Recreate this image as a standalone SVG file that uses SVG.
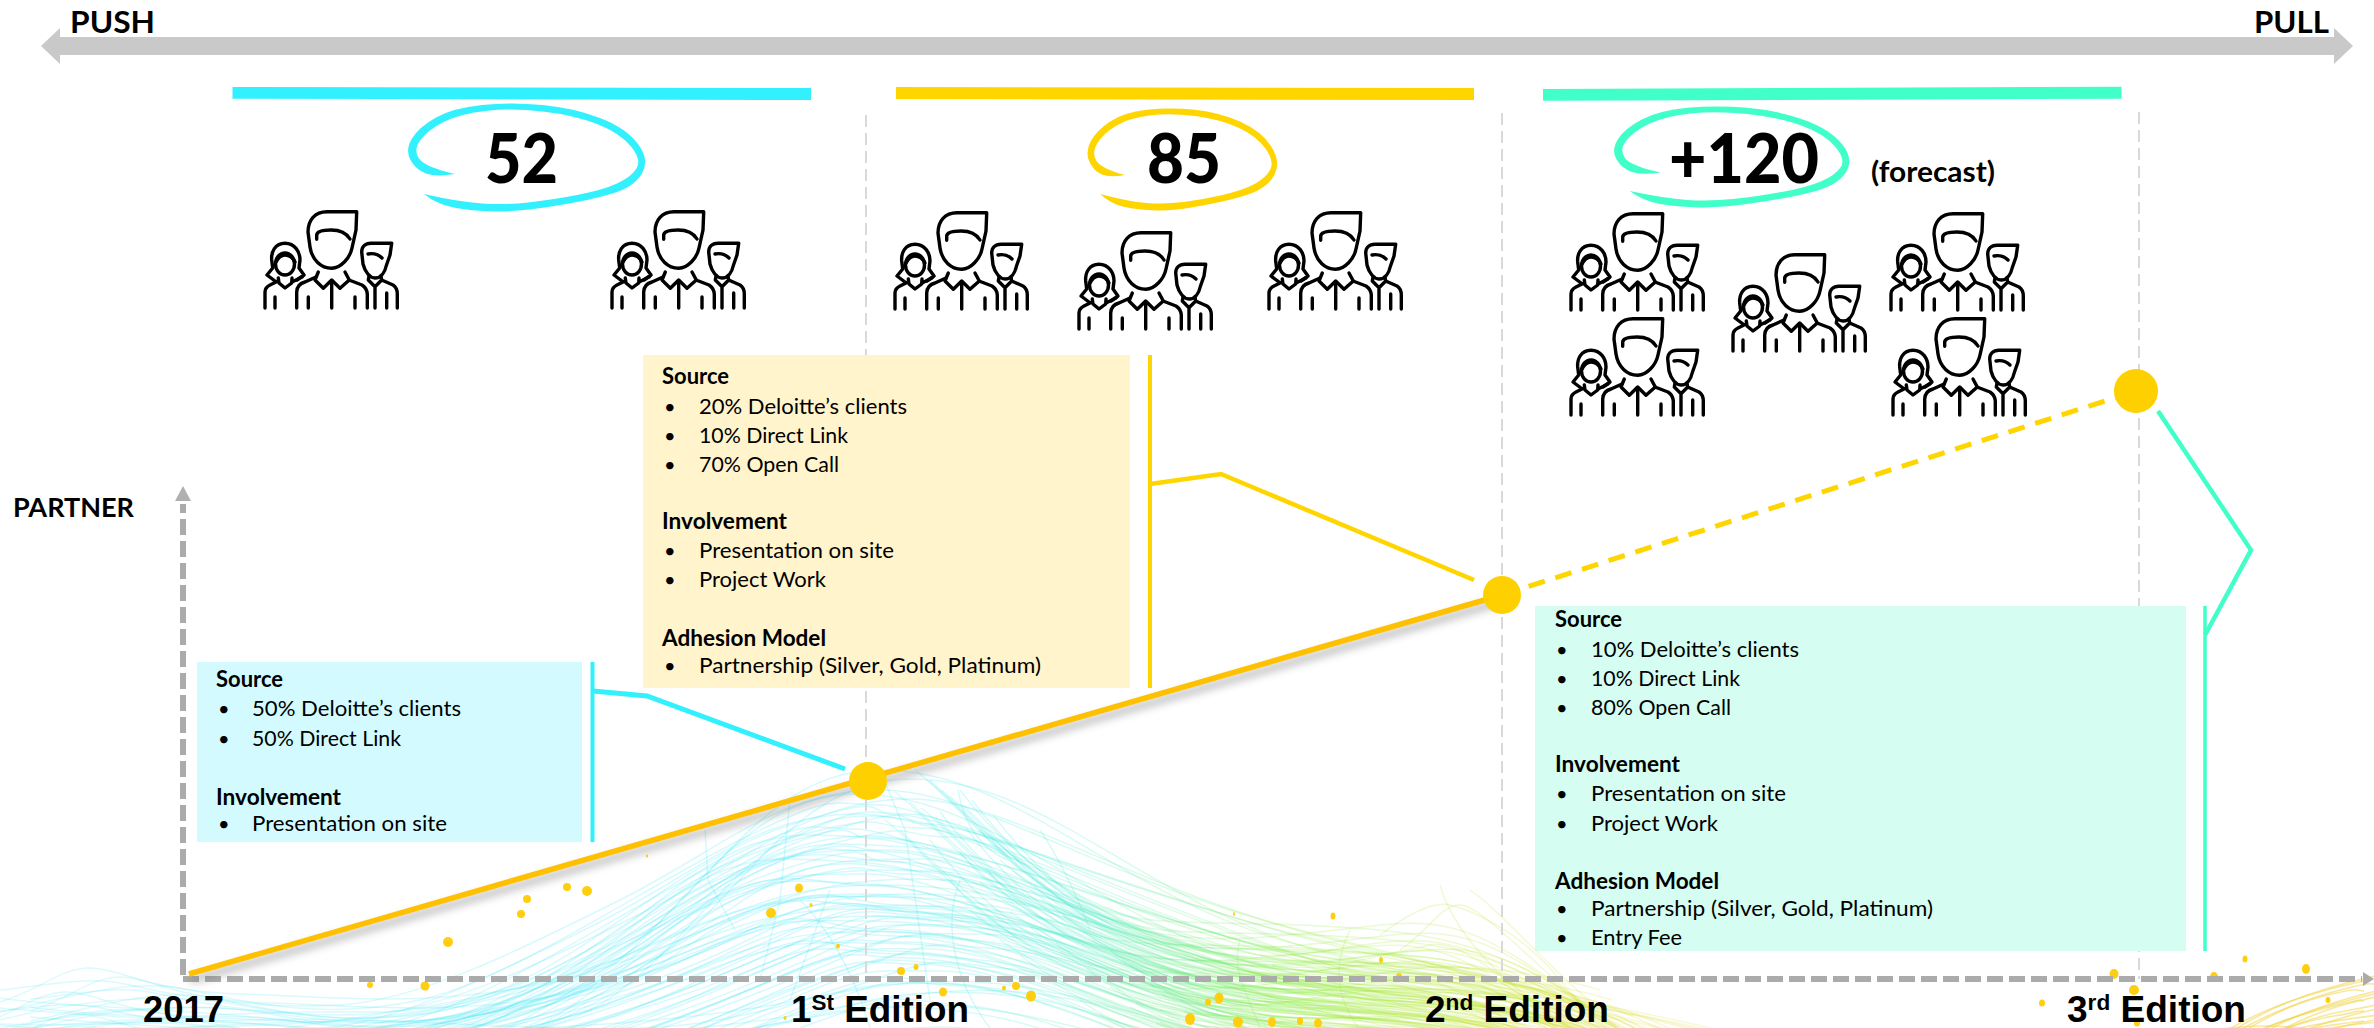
<svg xmlns="http://www.w3.org/2000/svg" xmlns:xlink="http://www.w3.org/1999/xlink" width="2374" height="1028" viewBox="0 0 2374 1028">
<style>
.b{font-family:Lato,"Open Sans",sans-serif;font-weight:700;fill:#000}
.n{font-family:Lato,"Open Sans",sans-serif;font-weight:900;font-size:68px;fill:#000}
.t{font-family:Lato,"Open Sans",sans-serif;font-size:22px;fill:#000}
.h{font-family:Lato,"Open Sans",sans-serif;font-size:22px;font-weight:700;fill:#000}
.u{font-family:Lato,"Open Sans",sans-serif;font-size:20px;fill:#000}
.e{font-family:"Liberation Sans",Arial,sans-serif;font-weight:700;font-size:36px;fill:#000}
.s{font-size:22px}
.ic{fill:none;stroke:#000;stroke-width:3.4;stroke-linecap:round;stroke-linejoin:round}
.g{fill:none;stroke:#D9D9D9;stroke-width:2;stroke-dasharray:12 6}
.ax{fill:none;stroke:#ABABAB;stroke-width:6;stroke-dasharray:16 6}
.w path{fill:none;stroke:url(#wg);stroke-width:1.5;stroke-opacity:.2}
.w3 path{fill:none;stroke:#F2D23C;stroke-width:1.6;stroke-opacity:.5}
.d ellipse{fill:#FFCE10}
.cy{fill:none;stroke:#33F0FF}
.ye{fill:none;stroke:#FFD500}
.te{fill:none;stroke:#40FFC8}
</style>
<defs>
<linearGradient id="wg" gradientUnits="userSpaceOnUse" x1="0" y1="0" x2="2374" y2="0">
<stop offset="0" stop-color="#55E4F0"/><stop offset=".36" stop-color="#2BE4F5"/><stop offset=".45" stop-color="#38E8C8"/><stop offset=".54" stop-color="#80E830"/><stop offset=".64" stop-color="#C8E020"/><stop offset=".72" stop-color="#E8D840"/><stop offset="1" stop-color="#F2D23C"/>
</linearGradient>
<filter id="bl" x="-10%" y="-30%" width="120%" height="160%"><feGaussianBlur stdDeviation="4"/></filter>
<path id="sc" d="M50,72Q31,75 21,71.5Q11,68 5.5,58Q0,48 7,36.5Q14,25 31,15.5Q48,6 77,3Q106,0 137.5,3Q169,6 195,16Q221,26 233,42Q245,58 237,71.5Q229,85 207.5,91.5Q186,98 149,104Q112,110 89,109.5Q66,109 48.5,105.5Q31,102 19,92Q54,100 77,101.5Q100,103 123,100.5Q146,98 172,93Q198,88 212,81.5Q226,75 231.5,66.5Q237,58 226,44.5Q215,31 192,22Q169,13 137.5,9.5Q106,6 80,9Q54,12 38.5,20Q23,28 15.5,38Q8,48 14,56.5Q20,65 50,72Z"/>
<g id="pp" class="ic">
<path d="M91.7,1.7H62C50,1.7 43,10 43,22L45,37C47,50 56,58 66.7,58.3C76,58 85,48 87,38L91,20Z"/>
<path d="M51.7,29.3V25C52,21 60,20 66,20C76,20 82,24 85,29"/>
<path d="M53.3,62L50,70L58.3,78.3L66.7,70L75,78.3L84.3,70L80,62"/>
<path d="M66.7,72V98M31.7,98V82C32,76 36,73 40,72L51,67M84,70L97,75C100,77 102,80 102.3,84V98M43.3,87V98M90,87V98"/>
<path d="M20,33.3C10,33.3 6,42 6.7,50L7.7,58L2,65L10,71M20,33.3C30,33.3 35,42 35,50L34,58L39,65L32,70"/>
<ellipse cx="20" cy="54" rx="9.5" ry="11"/>
<path d="M11,52C14,46 18,45 20,45C24,45 28,48 30,52M13.3,68L14,73L20,78L26.7,73L27,68M0,98V82C0,78 3,76 5,75L13,71M27,72L37,67M10,87V98"/>
<path d="M126.7,33.3H106C100,33.3 96.7,37 96.7,42L98,54C100,62 105,68 110,68C116,68 120,62 121.5,55L125,45Z"/>
<path d="M103,44C108,43 113,44 117,48M104,66L103.3,70L110,76.7L116.7,70L116,66M110,76.7V98M116.7,70L128,75C131,77 132.3,80 132.3,84V98M121.7,83V98"/>
</g>
<g id="wv" class="w">
<path d="M0,1002C40,990 60,968 90,968S150,992 240,994S430,1010 560,980S740,770 880,770S1120,900 1300,945S1560,990 1760,1040"/>
<path d="M0,990C50,985 90,975 130,985S260,1010 340,1005S520,950 620,900S780,790 880,790S1100,880 1300,930S1580,1000 1740,1040"/>
<path d="M0,1012C60,1000 130,976 190,990S330,1020 420,1000S640,890 740,840S830,805 880,805S1130,900 1280,950S1560,990 1700,1040"/>
<path d="M0,1020C70,1002 160,990 240,1005S400,1030 500,990S680,860 790,825S860,815 900,815S1100,880 1260,925S1500,960 1660,1040"/>
<path d="M0,1028C100,1010 190,1000 280,1014S470,1030 560,975S700,860 800,835S860,828 920,828S1130,920 1280,950S1540,960 1680,1040"/>
<path d="M20,1028C120,1020 260,1010 360,1012S560,980 660,900S800,835 880,838S1090,900 1240,940S1500,950 1640,1040"/>
<path d="M0,998C60,1008 170,1006 300,1022S520,1010 640,930S800,850 890,850S1100,940 1260,960S1500,975 1620,1040"/>
<path d="M0,1008C90,1016 180,1020 320,1028S600,970 700,900S830,862 900,862S1120,930 1260,965S1480,985 1600,1040"/>
<path d="M100,1028C240,1028 430,1026 540,980S740,880 840,872S980,880 1060,910S1250,975 1360,990S1500,1000 1580,1040"/>
<path d="M200,1040C340,1020 520,1000 640,950S800,885 880,885S1040,900 1120,935S1310,990 1420,1000S1540,1020 1600,1040"/>
<path d="M260,1040C380,1028 560,990 680,940S810,897 890,897S1040,910 1130,950S1340,985 1450,1000S1560,1020 1620,1040"/>
<path d="M330,1040C440,1030 600,990 720,930S830,905 900,905S1040,925 1120,960S1300,995 1400,1010S1510,1028 1560,1040"/>
<path d="M380,1040C480,1028 640,985 740,935S840,908 910,908S1060,930 1150,965S1330,1000 1420,1015S1500,1030 1540,1040"/>
<path d="M420,1040C530,1030 670,985 770,940S860,912 920,912S1070,945 1150,975S1330,1005 1400,1020"/>
<path d="M500,1040C590,1030 700,985 790,945S870,918 930,918S1070,950 1150,985S1300,1015 1380,1030"/>
<path d="M560,1040C640,1020 740,980 810,950S880,925 950,925S1090,965 1170,995S1320,1028 1380,1040"/>
<path d="M610,1040C680,1020 770,980 840,955S900,935 970,940S1110,975 1180,1005S1300,1040 1340,1040"/>
<path d="M680,1040C740,1010 800,985 860,965S920,955 980,960S1110,995 1180,1020"/>
<path d="M0,1024C120,1028 240,1016 360,1020S540,1030 640,1028S820,990 880,985S1010,985 1080,1010S1200,1040 1240,1040"/>
<path d="M60,1040C180,1030 320,1030 440,1030S700,1020 800,1000S960,975 1040,990S1160,1020 1220,1040"/>
</g>
<g id="wv2" class="w">
<path d="M960,790C990,830 1040,880 1100,905S1240,960 1340,965S1500,960 1600,990"/>
<path d="M930,780C960,810 1010,860 1070,895S1190,920 1300,925S1480,935 1580,1000"/>
<path d="M915,770C945,790 1030,900 1120,925S1290,935 1380,925S1500,945 1620,1028"/>
<path d="M980,830C1010,870 1080,915 1160,935S1300,950 1400,955S1560,1000 1640,1040"/>
<path d="M1000,860C1040,895 1120,935 1200,950S1360,960 1440,965S1600,1000 1660,1040"/>
<path d="M1030,890C1080,925 1150,955 1240,965S1390,975 1480,985S1610,1020 1650,1040"/>
<path d="M1050,905C1100,945 1180,970 1260,980S1420,985 1500,1000S1600,1030 1640,1040"/>
<path d="M1080,930C1130,965 1210,985 1290,990S1430,1000 1510,1010S1600,1040 1610,1040"/>
<path d="M1110,950C1150,980 1220,1000 1300,1000S1450,1010 1520,1025"/>
<path d="M1130,965C1170,990 1240,1010 1320,1008S1450,1020 1510,1040"/>
<path d="M1150,985C1190,1005 1260,1020 1330,1018S1440,1030 1490,1040"/>
<path d="M1180,1000C1220,1020 1270,1030 1340,1028S1420,1036 1460,1040"/>
<path d="M1190,960C1260,970 1320,965 1400,972S1530,985 1600,1040"/>
<path d="M1230,975C1300,985 1380,975 1460,985S1580,1015 1620,1040"/>
<path d="M1260,955C1320,960 1390,930 1450,945S1570,1000 1630,1040"/>
</g>
<g id="wv3" class="w3">
<path d="M2230,1040C2260,1020 2300,1000 2340,990S2370,985 2380,985"/>
<path d="M2240,1040C2270,1025 2310,1010 2350,1000S2370,995 2380,995"/>
<path d="M2260,1040C2290,1025 2320,1015 2350,1010S2370,1005 2380,1005"/>
<path d="M2220,1040C2260,1010 2310,990 2380,975"/>
<path d="M2250,1040C2290,1030 2330,1020 2380,1015"/>
<path d="M2280,1040C2310,1030 2340,1025 2380,1022"/>
<path d="M2160,1040C2210,1030 2250,1022 2300,1028S2350,1035 2380,1030"/>
</g>
</defs>
<rect width="2374" height="1028" fill="#fff"/>
<g id="wave" class="w">
<use href="#wv"/>
<use href="#wv" transform="translate(-24,24)"/>
<use href="#wv" transform="translate(30,9)"/>
<use href="#wv" transform="translate(-12,46)"/>
<use href="#wv2"/>
<use href="#wv2" transform="translate(12,10)"/>
<use href="#wv2" transform="translate(-20,22)"/>
<use href="#wv2" transform="translate(34,26)"/>
<use href="#wv2" transform="translate(6,38)"/>
<use href="#wv2" transform="translate(-30,50)"/>
<use href="#wv3"/>
<use href="#wv3" transform="translate(-16,6)"/>
<use href="#wv3" transform="translate(14,12)"/>
<path d="M1380,935C1400,920 1430,900 1450,905S1520,930 1560,980S1620,1030 1660,1040"/>
<path d="M1340,965C1380,955 1410,950 1430,945S1480,960 1520,990S1590,1030 1640,1040"/>
<path d="M1400,950C1430,930 1440,905 1460,905S1530,960 1600,1020"/>
<path d="M1440,885C1450,920 1480,960 1530,1000"/>
<path d="M1470,890C1500,910 1540,960 1600,1010"/>
<path d="M880,770L905,830L930,1000"/>
<path d="M958,790C965,830 985,850 1007,860"/>
<path d="M705,830L708,880L735,930"/>
<path d="M830,890L790,1000"/>
<path d="M800,900C820,920 850,960 870,1028"/>
<path d="M1040,830C1060,860 1075,890 1090,930"/>
<path d="M960,880C940,930 960,990 990,1028"/>
<path d="M790,800L780,900L760,980"/>
<path d="M1240,940C1230,970 1250,1000 1260,1028"/>
<path d="M1350,930C1330,970 1340,1005 1360,1030"/>
</g>
<g id="dots" class="d">
<ellipse cx="448" cy="942" rx="5" ry="5"/><ellipse cx="521" cy="914" rx="4" ry="4"/><ellipse cx="527" cy="899" rx="4" ry="4"/><ellipse cx="567" cy="887" rx="4" ry="4"/><ellipse cx="587" cy="891" rx="5" ry="5"/><ellipse cx="647" cy="856" rx="1" ry="1.5"/><ellipse cx="799" cy="888" rx="4" ry="4.5"/><ellipse cx="771" cy="913" rx="5" ry="5"/><ellipse cx="811" cy="905" rx="1.5" ry="2"/><ellipse cx="838" cy="946" rx="2" ry="2.5"/><ellipse cx="901" cy="971" rx="4" ry="4"/><ellipse cx="916" cy="967" rx="2.5" ry="3"/><ellipse cx="370" cy="985" rx="3" ry="3"/><ellipse cx="425" cy="986" rx="4.5" ry="4.5"/><ellipse cx="943" cy="992" rx="4" ry="4.5"/><ellipse cx="1016" cy="986" rx="4" ry="4"/><ellipse cx="1004" cy="988" rx="2" ry="2.5"/><ellipse cx="1031" cy="996" rx="5" ry="5.5"/><ellipse cx="1219" cy="998" rx="4.5" ry="5.5"/><ellipse cx="1208" cy="1002" rx="3" ry="3.5"/><ellipse cx="1190" cy="1019" rx="5" ry="6"/><ellipse cx="1238" cy="1022" rx="5" ry="5.5"/><ellipse cx="1272" cy="1022" rx="4" ry="5"/><ellipse cx="1300" cy="1021" rx="3" ry="4"/><ellipse cx="1318" cy="1023" rx="4" ry="4.5"/><ellipse cx="1333" cy="916" rx="2.5" ry="3.5"/><ellipse cx="1234" cy="914" rx="1" ry="2"/><ellipse cx="1381" cy="960" rx="2" ry="3"/><ellipse cx="1399" cy="977" rx="3" ry="4"/><ellipse cx="2114" cy="974" rx="4.5" ry="5"/><ellipse cx="2134" cy="990" rx="5" ry="5"/><ellipse cx="2214" cy="977" rx="4" ry="5"/><ellipse cx="2245" cy="959" rx="2.5" ry="3.5"/><ellipse cx="2306" cy="969" rx="4" ry="5"/><ellipse cx="2042" cy="1003" rx="3" ry="3.5"/><ellipse cx="2328" cy="1000" rx="2.5" ry="3"/><ellipse cx="2137" cy="1023" rx="3" ry="3.5"/><ellipse cx="785" cy="1018" rx="1.5" ry="2"/>
</g>
<g id="connectors">
<path class="g" d="M866,115V979"/>
<path class="g" d="M1502,113V979"/>
<path class="g" d="M2139,112V979"/>
<path class="ax" d="M183,975V504"/>
<path class="ax" d="M183,979H2362"/>
<path d="M183,486L191,501H175Z" fill="#B0B0B0"/>
<path d="M2374,979L2363,972V986Z" fill="#ABABAB"/>
<path d="M191,980L1504,601" fill="none" stroke="#777" stroke-width="6" opacity=".55" filter="url(#bl)"/>
<path d="M189,974L1502,595" fill="none" stroke="#FFC000" stroke-width="5.5"/>
<path class="ye" d="M1502,595L2136,391" stroke-width="5" stroke-dasharray="17 11"/>
<path d="M60,37H2334V28L2353,46L2334,64V55H60V64L41,46L60,28Z" fill="#C9C9C9"/>
</g>
<text class="b" x="70" y="33" font-size="30" textLength="85" lengthAdjust="spacingAndGlyphs">PUSH</text>
<text class="b" x="2254" y="33" font-size="30" textLength="75" lengthAdjust="spacingAndGlyphs">PULL</text>
<text class="b" x="13" y="517" font-size="27" textLength="121" lengthAdjust="spacingAndGlyphs">PARTNER</text>
<g id="phase-1">
<path d="M232.500,87L811,88V100L232.500,98.700Z" fill="#33F0FF"/>
<use href="#sc" transform="translate(405,102)" fill="#33F0FF"/>
<text class="n" x="485" y="183" textLength="73" lengthAdjust="spacingAndGlyphs">52</text>
<use href="#pp" x="265" y="210"/>
<use href="#pp" x="612" y="210"/>
</g>
<g id="phase-2">
<path d="M896,87L1474,88V100L896,99Z" fill="#FFD500"/>
<use href="#sc" transform="translate(1085,107) scale(.8,.945)" fill="#FFD500"/>
<text class="n" x="1147" y="183" textLength="74" lengthAdjust="spacingAndGlyphs">85</text>
<use href="#pp" x="895" y="211"/>
<use href="#pp" x="1079" y="231"/>
<use href="#pp" x="1269" y="211"/>
</g>
<g id="phase-3">
<path d="M1543,89L2121.500,86.700V98.700L1543,100.700Z" fill="#40FFC8"/>
<use href="#sc" transform="translate(1611,105) scale(.992,.936)" fill="#40FFC8"/>
<text class="n" x="1669" y="183" textLength="150" lengthAdjust="spacingAndGlyphs">+120</text>
<text class="b" x="1871" y="182" font-size="29" textLength="124" lengthAdjust="spacingAndGlyphs">(forecast)</text>
<use href="#pp" x="1571" y="212"/>
<use href="#pp" x="1733" y="253"/>
<use href="#pp" x="1891" y="212"/>
<use href="#pp" x="1571" y="317"/>
<use href="#pp" x="1893" y="317"/>
</g>
<g id="card-1">
<rect x="197" y="662" width="385" height="180" fill="#D3FBFF"/>
<path class="cy" d="M592.500,662V842" stroke-width="4"/>
<path class="cy" d="M593,691L647,696L845,769" stroke-width="5"/>
<text class="h" x="216" y="687" textLength="67" lengthAdjust="spacingAndGlyphs">Source</text>
<text class="u" x="218" y="716">•</text><text class="t" x="252" y="716" textLength="209" lengthAdjust="spacingAndGlyphs">50% Deloitte’s clients</text>
<text class="u" x="218" y="746">•</text><text class="t" x="252" y="746" textLength="149" lengthAdjust="spacingAndGlyphs">50% Direct Link</text>
<text class="h" x="216" y="805" textLength="125" lengthAdjust="spacingAndGlyphs">Involvement</text>
<text class="u" x="218" y="831">•</text><text class="t" x="252" y="831" textLength="195" lengthAdjust="spacingAndGlyphs">Presentation on site</text>
</g>
<g id="card-2">
<rect x="643" y="355" width="487" height="333" fill="#FFF4CC"/>
<path class="ye" d="M1150,355V688" stroke-width="4"/>
<path class="ye" d="M1150,484L1221,474L1474,580" stroke-width="4.5"/>
<text class="h" x="662" y="384" textLength="67" lengthAdjust="spacingAndGlyphs">Source</text>
<text class="u" x="664" y="414">•</text><text class="t" x="699" y="414" textLength="208" lengthAdjust="spacingAndGlyphs">20% Deloitte’s clients</text>
<text class="u" x="664" y="443">•</text><text class="t" x="699" y="443" textLength="149" lengthAdjust="spacingAndGlyphs">10% Direct Link</text>
<text class="u" x="664" y="472">•</text><text class="t" x="699" y="472" textLength="140" lengthAdjust="spacingAndGlyphs">70% Open Call</text>
<text class="h" x="662" y="529" textLength="125" lengthAdjust="spacingAndGlyphs">Involvement</text>
<text class="u" x="664" y="558">•</text><text class="t" x="699" y="558" textLength="195" lengthAdjust="spacingAndGlyphs">Presentation on site</text>
<text class="u" x="664" y="587">•</text><text class="t" x="699" y="587" textLength="127" lengthAdjust="spacingAndGlyphs">Project Work</text>
<text class="h" x="662" y="646" textLength="164" lengthAdjust="spacingAndGlyphs">Adhesion Model</text>
<text class="u" x="664" y="673">•</text><text class="t" x="699" y="673" textLength="342" lengthAdjust="spacingAndGlyphs">Partnership (Silver, Gold, Platinum)</text>
</g>
<g id="card-3">
<rect x="1535" y="606" width="651" height="345" fill="#D5FDF1"/>
<path class="te" d="M2205,606V951" stroke-width="3.500"/>
<path class="te" d="M2158,411L2251,550L2205,635" stroke-width="4.5"/>
<text class="h" x="1555" y="627" textLength="67" lengthAdjust="spacingAndGlyphs">Source</text>
<text class="u" x="1556" y="657">•</text><text class="t" x="1591" y="657" textLength="208" lengthAdjust="spacingAndGlyphs">10% Deloitte’s clients</text>
<text class="u" x="1556" y="686">•</text><text class="t" x="1591" y="686" textLength="149" lengthAdjust="spacingAndGlyphs">10% Direct Link</text>
<text class="u" x="1556" y="715">•</text><text class="t" x="1591" y="715" textLength="140" lengthAdjust="spacingAndGlyphs">80% Open Call</text>
<text class="h" x="1555" y="772" textLength="125" lengthAdjust="spacingAndGlyphs">Involvement</text>
<text class="u" x="1556" y="801">•</text><text class="t" x="1591" y="801" textLength="195" lengthAdjust="spacingAndGlyphs">Presentation on site</text>
<text class="u" x="1556" y="831">•</text><text class="t" x="1591" y="831" textLength="127" lengthAdjust="spacingAndGlyphs">Project Work</text>
<text class="h" x="1555" y="889" textLength="164" lengthAdjust="spacingAndGlyphs">Adhesion Model</text>
<text class="u" x="1556" y="916">•</text><text class="t" x="1591" y="916" textLength="342" lengthAdjust="spacingAndGlyphs">Partnership (Silver, Gold, Platinum)</text>
<text class="u" x="1556" y="945">•</text><text class="t" x="1591" y="945" textLength="91" lengthAdjust="spacingAndGlyphs">Entry Fee</text>
</g>
<g id="node-1"><circle cx="868" cy="781" r="19" fill="#FFD000"/></g>
<g id="node-2"><circle cx="1502" cy="595" r="19" fill="#FFD000"/></g>
<g id="node-3"><circle cx="2136" cy="391" r="22" fill="#FFD000"/></g>
<g id="labels">
<text class="e" x="143" y="1022" textLength="81" lengthAdjust="spacingAndGlyphs">2017</text>
<text class="e" x="791" y="1022" textLength="178" lengthAdjust="spacingAndGlyphs">1<tspan class="s" dy="-12">St</tspan><tspan dy="12"> Edition</tspan></text>
<text class="e" x="1425" y="1022" textLength="184" lengthAdjust="spacingAndGlyphs">2<tspan class="s" dy="-12">nd</tspan><tspan dy="12"> Edition</tspan></text>
<text class="e" x="2067" y="1022" textLength="179" lengthAdjust="spacingAndGlyphs">3<tspan class="s" dy="-12">rd</tspan><tspan dy="12"> Edition</tspan></text>
</g>
</svg>
